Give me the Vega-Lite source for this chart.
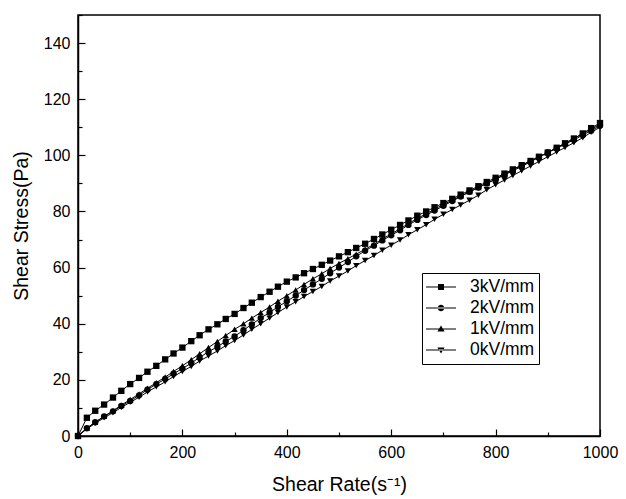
{
  "$schema": "https://vega.github.io/schema/vega-lite/v6.json",
  "width": 522,
  "height": 421,
  "autosize": {"type": "none"},
  "padding": {"left": 78, "top": 15, "right": 26, "bottom": 63},
  "background": "white",
  "config": {
    "font": "Liberation Sans",
    "view": {"stroke": "black", "strokeWidth": 1.5},
    "axis": {
      "domainColor": "black",
      "domainWidth": 1.5,
      "tickColor": "black",
      "tickWidth": 1.2,
      "labelColor": "black",
      "labelFont": "Liberation Sans",
      "labelFontSize": 16,
      "titleFont": "Liberation Sans",
      "titleFontSize": 19.5,
      "titleFontWeight": "normal",
      "titleColor": "black",
      "grid": false,
      "labelFlush": false,
      "labelOverlap": false
    }
  },
  "data": {
    "values": [
      {"x":0,"y":0,"s":"3kV/mm"},{"x":17,"y":6.5,"s":"3kV/mm"},{"x":33,"y":9.0,"s":"3kV/mm"},{"x":50,"y":11.2,"s":"3kV/mm"},{"x":67,"y":13.7,"s":"3kV/mm"},{"x":83,"y":16.1,"s":"3kV/mm"},{"x":100,"y":18.5,"s":"3kV/mm"},{"x":117,"y":20.7,"s":"3kV/mm"},{"x":133,"y":22.9,"s":"3kV/mm"},{"x":150,"y":25.0,"s":"3kV/mm"},{"x":167,"y":27.3,"s":"3kV/mm"},{"x":183,"y":29.4,"s":"3kV/mm"},{"x":200,"y":31.5,"s":"3kV/mm"},{"x":217,"y":33.8,"s":"3kV/mm"},{"x":233,"y":35.9,"s":"3kV/mm"},{"x":250,"y":38.0,"s":"3kV/mm"},{"x":267,"y":39.8,"s":"3kV/mm"},{"x":283,"y":41.7,"s":"3kV/mm"},{"x":300,"y":43.5,"s":"3kV/mm"},{"x":317,"y":45.6,"s":"3kV/mm"},{"x":333,"y":47.5,"s":"3kV/mm"},{"x":350,"y":49.5,"s":"3kV/mm"},{"x":367,"y":51.4,"s":"3kV/mm"},{"x":383,"y":53.2,"s":"3kV/mm"},{"x":400,"y":55.0,"s":"3kV/mm"},{"x":417,"y":56.5,"s":"3kV/mm"},{"x":433,"y":58.0,"s":"3kV/mm"},{"x":450,"y":59.5,"s":"3kV/mm"},{"x":467,"y":61.0,"s":"3kV/mm"},{"x":483,"y":62.5,"s":"3kV/mm"},{"x":500,"y":64.0,"s":"3kV/mm"},{"x":517,"y":65.5,"s":"3kV/mm"},{"x":533,"y":67.0,"s":"3kV/mm"},{"x":550,"y":68.5,"s":"3kV/mm"},{"x":567,"y":70.2,"s":"3kV/mm"},{"x":583,"y":71.8,"s":"3kV/mm"},{"x":600,"y":73.5,"s":"3kV/mm"},{"x":617,"y":75.2,"s":"3kV/mm"},{"x":633,"y":76.8,"s":"3kV/mm"},{"x":650,"y":78.5,"s":"3kV/mm"},{"x":667,"y":80.0,"s":"3kV/mm"},{"x":683,"y":81.5,"s":"3kV/mm"},{"x":700,"y":83.0,"s":"3kV/mm"},{"x":717,"y":84.5,"s":"3kV/mm"},{"x":733,"y":86.0,"s":"3kV/mm"},{"x":750,"y":87.5,"s":"3kV/mm"},{"x":767,"y":89.0,"s":"3kV/mm"},{"x":783,"y":90.5,"s":"3kV/mm"},{"x":800,"y":92.0,"s":"3kV/mm"},{"x":817,"y":93.5,"s":"3kV/mm"},{"x":833,"y":95.0,"s":"3kV/mm"},{"x":850,"y":96.5,"s":"3kV/mm"},{"x":867,"y":98.0,"s":"3kV/mm"},{"x":883,"y":99.5,"s":"3kV/mm"},{"x":900,"y":101.0,"s":"3kV/mm"},{"x":917,"y":102.7,"s":"3kV/mm"},{"x":933,"y":104.3,"s":"3kV/mm"},{"x":950,"y":106.0,"s":"3kV/mm"},{"x":967,"y":107.8,"s":"3kV/mm"},{"x":983,"y":109.7,"s":"3kV/mm"},{"x":1000,"y":111.5,"s":"3kV/mm"},

      {"x":0,"y":0,"s":"2kV/mm"},{"x":17,"y":2.8,"s":"2kV/mm"},{"x":33,"y":4.9,"s":"2kV/mm"},{"x":50,"y":7.0,"s":"2kV/mm"},{"x":67,"y":8.8,"s":"2kV/mm"},{"x":83,"y":10.7,"s":"2kV/mm"},{"x":100,"y":12.5,"s":"2kV/mm"},{"x":117,"y":14.5,"s":"2kV/mm"},{"x":133,"y":16.5,"s":"2kV/mm"},{"x":150,"y":18.5,"s":"2kV/mm"},{"x":167,"y":20.3,"s":"2kV/mm"},{"x":183,"y":22.2,"s":"2kV/mm"},{"x":200,"y":24.0,"s":"2kV/mm"},{"x":217,"y":26.0,"s":"2kV/mm"},{"x":233,"y":28.0,"s":"2kV/mm"},{"x":250,"y":30.0,"s":"2kV/mm"},{"x":267,"y":31.8,"s":"2kV/mm"},{"x":283,"y":33.7,"s":"2kV/mm"},{"x":300,"y":35.5,"s":"2kV/mm"},{"x":317,"y":37.7,"s":"2kV/mm"},{"x":333,"y":39.8,"s":"2kV/mm"},{"x":350,"y":42.0,"s":"2kV/mm"},{"x":367,"y":44.0,"s":"2kV/mm"},{"x":383,"y":46.0,"s":"2kV/mm"},{"x":400,"y":48.0,"s":"2kV/mm"},{"x":417,"y":50.0,"s":"2kV/mm"},{"x":433,"y":52.0,"s":"2kV/mm"},{"x":450,"y":54.0,"s":"2kV/mm"},{"x":467,"y":56.0,"s":"2kV/mm"},{"x":483,"y":58.0,"s":"2kV/mm"},{"x":500,"y":60.0,"s":"2kV/mm"},{"x":517,"y":62.0,"s":"2kV/mm"},{"x":533,"y":64.0,"s":"2kV/mm"},{"x":550,"y":66.0,"s":"2kV/mm"},{"x":567,"y":67.8,"s":"2kV/mm"},{"x":583,"y":69.7,"s":"2kV/mm"},{"x":600,"y":71.5,"s":"2kV/mm"},{"x":617,"y":73.3,"s":"2kV/mm"},{"x":633,"y":75.2,"s":"2kV/mm"},{"x":650,"y":77.0,"s":"2kV/mm"},{"x":667,"y":78.7,"s":"2kV/mm"},{"x":683,"y":80.3,"s":"2kV/mm"},{"x":700,"y":82.0,"s":"2kV/mm"},{"x":717,"y":83.7,"s":"2kV/mm"},{"x":733,"y":85.3,"s":"2kV/mm"},{"x":750,"y":87.0,"s":"2kV/mm"},{"x":767,"y":88.5,"s":"2kV/mm"},{"x":783,"y":90.0,"s":"2kV/mm"},{"x":800,"y":91.5,"s":"2kV/mm"},{"x":817,"y":93.0,"s":"2kV/mm"},{"x":833,"y":94.5,"s":"2kV/mm"},{"x":850,"y":96.0,"s":"2kV/mm"},{"x":867,"y":97.7,"s":"2kV/mm"},{"x":883,"y":99.3,"s":"2kV/mm"},{"x":900,"y":101.0,"s":"2kV/mm"},{"x":917,"y":102.5,"s":"2kV/mm"},{"x":933,"y":104.0,"s":"2kV/mm"},{"x":950,"y":105.5,"s":"2kV/mm"},{"x":967,"y":107.2,"s":"2kV/mm"},{"x":983,"y":108.8,"s":"2kV/mm"},{"x":1000,"y":110.5,"s":"2kV/mm"},

      {"x":0,"y":0,"s":"1kV/mm"},{"x":17,"y":2.8,"s":"1kV/mm"},{"x":33,"y":4.9,"s":"1kV/mm"},{"x":50,"y":7.0,"s":"1kV/mm"},{"x":67,"y":9.0,"s":"1kV/mm"},{"x":83,"y":11.0,"s":"1kV/mm"},{"x":100,"y":13.0,"s":"1kV/mm"},{"x":117,"y":15.0,"s":"1kV/mm"},{"x":133,"y":17.0,"s":"1kV/mm"},{"x":150,"y":19.0,"s":"1kV/mm"},{"x":167,"y":21.0,"s":"1kV/mm"},{"x":183,"y":23.0,"s":"1kV/mm"},{"x":200,"y":25.0,"s":"1kV/mm"},{"x":217,"y":27.2,"s":"1kV/mm"},{"x":233,"y":29.3,"s":"1kV/mm"},{"x":250,"y":31.5,"s":"1kV/mm"},{"x":267,"y":33.7,"s":"1kV/mm"},{"x":283,"y":35.8,"s":"1kV/mm"},{"x":300,"y":38.0,"s":"1kV/mm"},{"x":317,"y":40.0,"s":"1kV/mm"},{"x":333,"y":42.0,"s":"1kV/mm"},{"x":350,"y":44.0,"s":"1kV/mm"},{"x":367,"y":46.0,"s":"1kV/mm"},{"x":383,"y":48.0,"s":"1kV/mm"},{"x":400,"y":50.0,"s":"1kV/mm"},{"x":417,"y":52.0,"s":"1kV/mm"},{"x":433,"y":54.0,"s":"1kV/mm"},{"x":450,"y":56.0,"s":"1kV/mm"},{"x":467,"y":57.8,"s":"1kV/mm"},{"x":483,"y":59.7,"s":"1kV/mm"},{"x":500,"y":61.5,"s":"1kV/mm"},{"x":517,"y":63.2,"s":"1kV/mm"},{"x":533,"y":64.8,"s":"1kV/mm"},{"x":550,"y":66.5,"s":"1kV/mm"},{"x":567,"y":68.3,"s":"1kV/mm"},{"x":583,"y":70.2,"s":"1kV/mm"},{"x":600,"y":72.0,"s":"1kV/mm"},{"x":617,"y":73.8,"s":"1kV/mm"},{"x":633,"y":75.7,"s":"1kV/mm"},{"x":650,"y":77.5,"s":"1kV/mm"},{"x":667,"y":79.2,"s":"1kV/mm"},{"x":683,"y":80.8,"s":"1kV/mm"},{"x":700,"y":82.5,"s":"1kV/mm"},{"x":717,"y":84.0,"s":"1kV/mm"},{"x":733,"y":85.5,"s":"1kV/mm"},{"x":750,"y":87.0,"s":"1kV/mm"},{"x":767,"y":88.5,"s":"1kV/mm"},{"x":783,"y":90.0,"s":"1kV/mm"},{"x":800,"y":91.5,"s":"1kV/mm"},{"x":817,"y":93.2,"s":"1kV/mm"},{"x":833,"y":94.8,"s":"1kV/mm"},{"x":850,"y":96.5,"s":"1kV/mm"},{"x":867,"y":98.0,"s":"1kV/mm"},{"x":883,"y":99.5,"s":"1kV/mm"},{"x":900,"y":101.0,"s":"1kV/mm"},{"x":917,"y":102.7,"s":"1kV/mm"},{"x":933,"y":104.3,"s":"1kV/mm"},{"x":950,"y":106.0,"s":"1kV/mm"},{"x":967,"y":107.7,"s":"1kV/mm"},{"x":983,"y":109.3,"s":"1kV/mm"},{"x":1000,"y":111.0,"s":"1kV/mm"},

      {"x":0,"y":0,"s":"0kV/mm"},{"x":17,"y":2.5,"s":"0kV/mm"},{"x":33,"y":4.5,"s":"0kV/mm"},{"x":50,"y":6.5,"s":"0kV/mm"},{"x":67,"y":8.3,"s":"0kV/mm"},{"x":83,"y":10.2,"s":"0kV/mm"},{"x":100,"y":12.0,"s":"0kV/mm"},{"x":117,"y":13.8,"s":"0kV/mm"},{"x":133,"y":15.7,"s":"0kV/mm"},{"x":150,"y":17.5,"s":"0kV/mm"},{"x":167,"y":19.3,"s":"0kV/mm"},{"x":183,"y":21.2,"s":"0kV/mm"},{"x":200,"y":23.0,"s":"0kV/mm"},{"x":217,"y":24.8,"s":"0kV/mm"},{"x":233,"y":26.7,"s":"0kV/mm"},{"x":250,"y":28.5,"s":"0kV/mm"},{"x":267,"y":30.3,"s":"0kV/mm"},{"x":283,"y":32.2,"s":"0kV/mm"},{"x":300,"y":34.0,"s":"0kV/mm"},{"x":317,"y":36.0,"s":"0kV/mm"},{"x":333,"y":38.0,"s":"0kV/mm"},{"x":350,"y":40.0,"s":"0kV/mm"},{"x":367,"y":42.0,"s":"0kV/mm"},{"x":383,"y":44.0,"s":"0kV/mm"},{"x":400,"y":46.0,"s":"0kV/mm"},{"x":417,"y":47.8,"s":"0kV/mm"},{"x":433,"y":49.7,"s":"0kV/mm"},{"x":450,"y":51.5,"s":"0kV/mm"},{"x":467,"y":53.3,"s":"0kV/mm"},{"x":483,"y":55.2,"s":"0kV/mm"},{"x":500,"y":57.0,"s":"0kV/mm"},{"x":517,"y":58.8,"s":"0kV/mm"},{"x":533,"y":60.7,"s":"0kV/mm"},{"x":550,"y":62.5,"s":"0kV/mm"},{"x":567,"y":64.3,"s":"0kV/mm"},{"x":583,"y":66.2,"s":"0kV/mm"},{"x":600,"y":68.0,"s":"0kV/mm"},{"x":617,"y":69.8,"s":"0kV/mm"},{"x":633,"y":71.7,"s":"0kV/mm"},{"x":650,"y":73.5,"s":"0kV/mm"},{"x":667,"y":75.3,"s":"0kV/mm"},{"x":683,"y":77.2,"s":"0kV/mm"},{"x":700,"y":79.0,"s":"0kV/mm"},{"x":717,"y":80.7,"s":"0kV/mm"},{"x":733,"y":82.3,"s":"0kV/mm"},{"x":750,"y":84.0,"s":"0kV/mm"},{"x":767,"y":85.8,"s":"0kV/mm"},{"x":783,"y":87.7,"s":"0kV/mm"},{"x":800,"y":89.5,"s":"0kV/mm"},{"x":817,"y":91.2,"s":"0kV/mm"},{"x":833,"y":92.8,"s":"0kV/mm"},{"x":850,"y":94.5,"s":"0kV/mm"},{"x":867,"y":96.2,"s":"0kV/mm"},{"x":883,"y":97.8,"s":"0kV/mm"},{"x":900,"y":99.5,"s":"0kV/mm"},{"x":917,"y":101.2,"s":"0kV/mm"},{"x":933,"y":102.8,"s":"0kV/mm"},{"x":950,"y":104.5,"s":"0kV/mm"},{"x":967,"y":106.3,"s":"0kV/mm"},{"x":983,"y":108.2,"s":"0kV/mm"},{"x":1000,"y":110.0,"s":"0kV/mm"}
    ]
  },
  "encoding": {
    "x": {
      "field": "x", "type": "quantitative",
      "scale": {"domain": [0, 1000], "nice": false, "zero": false},
      "axis": {
        "title": "Shear Rate(s\u207B\u00B9)",
        "values": [0,100,200,300,400,500,600,700,800,900,1000],
        "labelExpr": "datum.value % 200 === 0 ? datum.label : ''",
        "format": "d",
        "tickSize": {"condition": {"test": "datum.value % 200 === 0", "value": -7}, "value": -4},
        "labelPadding": 15,
        "titlePadding": 12
      }
    },
    "y": {
      "field": "y", "type": "quantitative",
      "scale": {"domain": [0, 150], "nice": false},
      "axis": {
        "title": "Shear Stress(Pa)",
        "values": [0,10,20,30,40,50,60,70,80,90,100,110,120,130,140,150],
        "labelExpr": "datum.value % 20 === 0 ? datum.label : ''",
        "format": "d",
        "tickSize": {"condition": {"test": "datum.value % 20 === 0", "value": -7}, "value": -4},
        "labelPadding": 15,
        "titlePadding": 12
      }
    }
  },
  "layer": [
    {
      "mark": {"type": "line", "color": "black", "strokeWidth": 1},
      "encoding": {"detail": {"field": "s"}}
    },
    {
      "mark": {"type": "point", "filled": true, "color": "black", "size": 40, "opacity": 1},
      "encoding": {
        "shape": {
          "field": "s", "type": "nominal",
          "scale": {"domain": ["3kV/mm","2kV/mm","1kV/mm","0kV/mm"], "range": ["square","circle","triangle-up","triangle-down"]},
          "legend": null
        }
      }
    },
    {
      "mark": {"type": "point", "filled": true, "color": "black", "opacity": 0},
      "encoding": {
        "shape": {
          "field": "s", "type": "nominal",
          "scale": {"domain": ["3kV/mm","2kV/mm","1kV/mm","0kV/mm"], "range": [
            "M-1,-0.04H1V0.04H-1Z M-0.2,-0.2H0.2V0.2H-0.2Z",
            "M-1,-0.04H1V0.04H-1Z M-0.22,0A0.22,0.22 0 1,0 0.22,0A0.22,0.22 0 1,0 -0.22,0Z",
            "M-1,-0.04H1V0.04H-1Z M0,-0.24L0.24,0.17H-0.24Z",
            "M-1,-0.04H1V0.04H-1Z M0,0.24L0.24,-0.17H-0.24Z"
          ]},
          "legend": {
            "title": null,
            "orient": "none",
            "legendX": 344,
            "legendY": 258,
            "strokeColor": "black",
            "fillColor": "white",
            "padding": 4,
            "symbolSize": 900,
            "symbolOpacity": 1,
            "symbolFillColor": "black",
            "symbolStrokeColor": "black",
            "symbolStrokeWidth": 0,
            "labelFont": "Liberation Sans",
            "labelFontSize": 17.5,
            "labelColor": "black",
            "labelOffset": 14,
            "clipHeight": 20,
            "rowPadding": 1
          }
        }
      }
    }
  ],
  "resolve": {"scale": {"shape": "independent"}}
}
